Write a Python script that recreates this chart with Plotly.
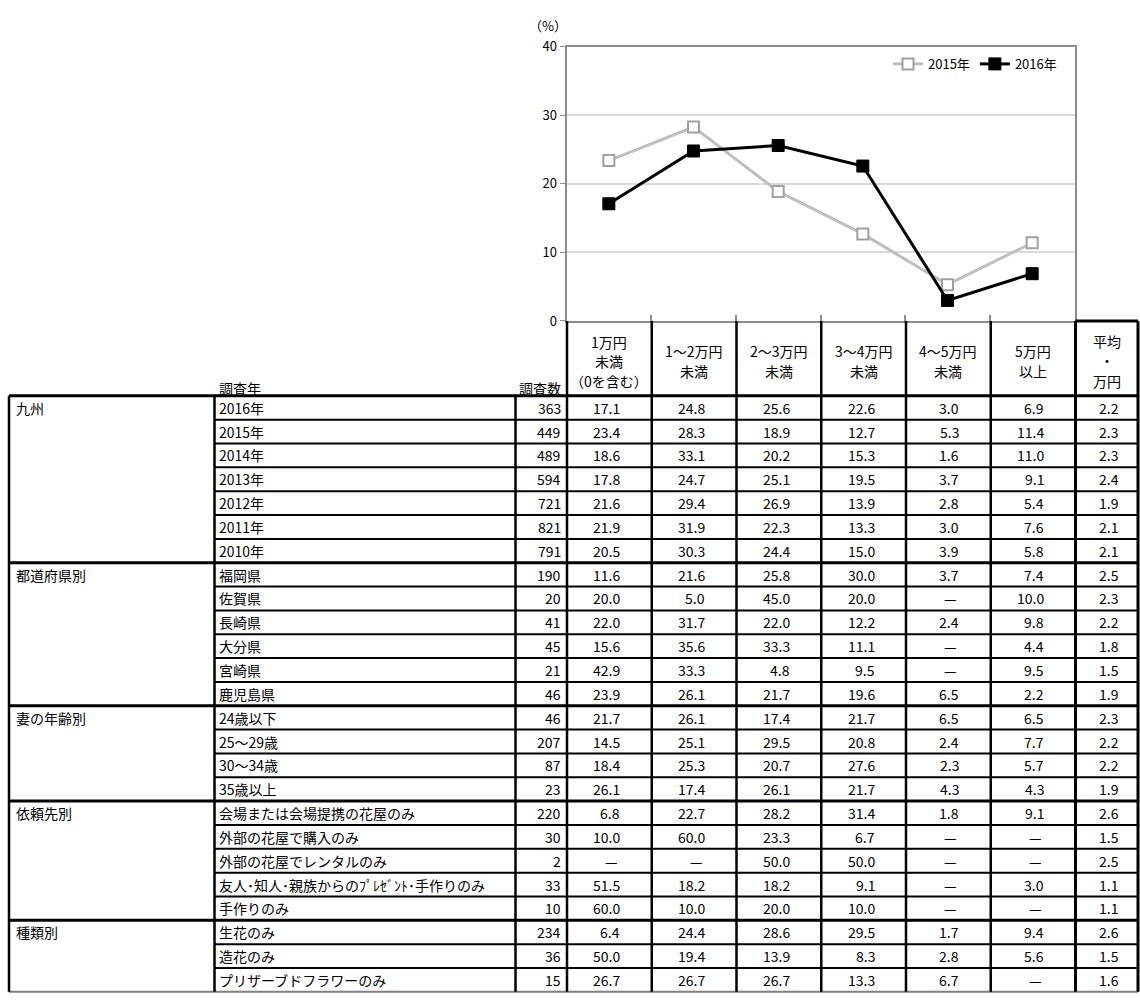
import plotly.graph_objects as go

# ---------------- data ----------------
price_bands = ["1万円未満（0を含む）", "1〜2万円未満", "2〜3万円未満", "3〜4万円未満", "4〜5万円未満", "5万円以上"]
header_lines = [["1万円", "未満", "（0を含む）"], ["1〜2万円", "未満"], ["2〜3万円", "未満"],
                ["3〜4万円", "未満"], ["4〜5万円", "未満"], ["5万円", "以上"]]
avg_header = ["平均", "・", "万円"]

groups = ["九州", "都道府県別", "妻の年齢別", "依頼先別", "種類別"]
group_sizes = [7, 6, 4, 5, 3]
row_labels = ["2016年", "2015年", "2014年", "2013年", "2012年", "2011年", "2010年",
              "福岡県", "佐賀県", "長崎県", "大分県", "宮崎県", "鹿児島県",
              "24歳以下", "25〜29歳", "30〜34歳", "35歳以上",
              "会場または会場提携の花屋のみ", "外部の花屋で購入のみ", "外部の花屋でレンタルのみ",
              "友人･知人･親族からのﾌﾟﾚｾﾞﾝﾄ･手作りのみ", "手作りのみ",
              "生花のみ", "造花のみ", "プリザーブドフラワーのみ"]
counts = [363, 449, 489, 594, 721, 821, 791, 190, 20, 41, 45, 21, 46, 46, 207, 87, 23,
          220, 30, 2, 33, 10, 234, 36, 15]
band_lt1 = [17.1, 23.4, 18.6, 17.8, 21.6, 21.9, 20.5, 11.6, 20.0, 22.0, 15.6, 42.9, 23.9,
            21.7, 14.5, 18.4, 26.1, 6.8, 10.0, None, 51.5, 60.0, 6.4, 50.0, 26.7]
band_1_2 = [24.8, 28.3, 33.1, 24.7, 29.4, 31.9, 30.3, 21.6, 5.0, 31.7, 35.6, 33.3, 26.1,
            26.1, 25.1, 25.3, 17.4, 22.7, 60.0, None, 18.2, 10.0, 24.4, 19.4, 26.7]
band_2_3 = [25.6, 18.9, 20.2, 25.1, 26.9, 22.3, 24.4, 25.8, 45.0, 22.0, 33.3, 4.8, 21.7,
            17.4, 29.5, 20.7, 26.1, 28.2, 23.3, 50.0, 18.2, 20.0, 28.6, 13.9, 26.7]
band_3_4 = [22.6, 12.7, 15.3, 19.5, 13.9, 13.3, 15.0, 30.0, 20.0, 12.2, 11.1, 9.5, 19.6,
            21.7, 20.8, 27.6, 21.7, 31.4, 6.7, 50.0, 9.1, 10.0, 29.5, 8.3, 13.3]
band_4_5 = [3.0, 5.3, 1.6, 3.7, 2.8, 3.0, 3.9, 3.7, None, 2.4, None, None, 6.5,
            6.5, 2.4, 2.3, 4.3, 1.8, None, None, None, None, 1.7, 2.8, 6.7]
band_ge5 = [6.9, 11.4, 11.0, 9.1, 5.4, 7.6, 5.8, 7.4, 10.0, 9.8, 4.4, 9.5, 2.2,
            6.5, 7.7, 5.7, 4.3, 9.1, None, None, 3.0, None, 9.4, 5.6, None]
avg_man = [2.2, 2.3, 2.3, 2.4, 1.9, 2.1, 2.1, 2.5, 2.3, 2.2, 1.8, 1.5, 1.9,
           2.3, 2.2, 2.2, 1.9, 2.6, 1.5, 2.5, 1.1, 1.1, 2.6, 1.5, 1.6]
band_cols = [band_lt1, band_1_2, band_2_3, band_3_4, band_4_5, band_ge5]

series_2015 = [c[1] for c in band_cols]
series_2016 = [c[0] for c in band_cols]

# ---------------- layout geometry (pixels) ----------------
W, H = 1140, 1003
PLOT_L, PLOT_R, PLOT_T, PLOT_B = 566.5, 1074.5, 37.5, 317.0
TAB_T, ROW_H = 393.3, 24.3
XL, XC1, XC2, XC3 = 9.0, 214.5, 515.5, 567.0
VW = (1075.5 - XC3) / 6
XAVG, XR = 1075.5, 1138.0

FONT = "Noto Sans CJK JP, sans-serif"
FS = 14


def X(p):
    return p / W


def Y(p):
    return 1 - p / H


fig = go.Figure()
xs = list(range(len(price_bands)))
fig.add_trace(go.Scatter(
    x=xs, y=series_2015, name="2015年", mode="lines+markers",
    line=dict(color="#bfbfbf", width=3),
    marker=dict(symbol="square", size=11, color="white", line=dict(color="#a0a0a0", width=2)),
    text=price_bands, hoverinfo="text+y"))
fig.add_trace(go.Scatter(
    x=xs, y=series_2016, name="2016年", mode="lines+markers",
    line=dict(color="black", width=3),
    marker=dict(symbol="square", size=12, color="black", line=dict(color="black", width=1)),
    text=price_bands, hoverinfo="text+y"))

shapes = []
annotations = []


def line(x0, y0, x1, y1, w=2, color="black"):
    shapes.append(dict(type="line", xref="paper", yref="paper", x0=X(x0), y0=Y(y0),
                       x1=X(x1), y1=Y(y1), line=dict(color=color, width=w), layer="above"))


def text(x, y, s, anchor="center", size=FS):
    annotations.append(dict(xref="paper", yref="paper", x=X(x), y=Y(y), text=s,
                            showarrow=False, xanchor=anchor, yanchor="middle",
                            font=dict(family=FONT, size=size, color="black")))


n_rows = len(row_labels)
TAB_B = TAB_T + ROW_H * n_rows

# header texts
for k, lines in enumerate(header_lines):
    cx = XC3 + VW * (k + 0.5)
    ys = [338, 358, 378] if len(lines) == 3 else [348, 368]
    for s, yy in zip(lines, ys):
        text(cx, yy, s)
for s, yy in zip(avg_header, [337, 357, 378]):
    text((XAVG + XR) / 2, yy, s)
text(XC1 + 2, 385, "調査年", anchor="left")
text(XC3 - 4, 385, "調査数", anchor="right")
text(548, 16, "（%）", size=13)


def fmt(v):
    return "—" if v is None else f"{v:.1f}"


# body
group_start = []
r = 0
for g, n in zip(groups, group_sizes):
    group_start.append(r)
    text(XL + 5, TAB_T + ROW_H * (r + 0.5), g, anchor="left")
    r += n

for i in range(n_rows):
    cy = TAB_T + ROW_H * (i + 0.5)
    text(XC1 + 2, cy, row_labels[i], anchor="left")
    text(XC3 - 4, cy, str(counts[i]), anchor="right")
    for k, col in enumerate(band_cols):
        cx = XC3 + VW * (k + 0.5)
        v = col[i]
        if v is None:
            text(cx + 2, cy, fmt(v))
        else:
            text(cx + 13, cy, fmt(v), anchor="right")
    text((XAVG + XR) / 2 + 2, cy, fmt(avg_man[i]))

# horizontal lines
for i in range(n_rows + 1):
    yy = TAB_T + ROW_H * i
    if i in group_start or i == n_rows:
        line(XL, yy, XR, yy, w=3 if i != n_rows else 2,
             color="black" if i != n_rows else "#808080")
    else:
        line(XC1, yy, XR, yy, w=2)
# vertical lines
for xx in [XL, XC1, XC2]:
    line(xx, TAB_T, xx, TAB_B, w=2.5)
for k in range(6):
    xx = XC3 + VW * k
    line(xx, PLOT_B, xx, TAB_B, w=2.5)
line(XAVG, PLOT_B, XAVG, TAB_B, w=3)
line(XR, PLOT_B, XR, TAB_B, w=3)
line(XAVG, PLOT_B, XR, PLOT_B, w=3)

fig.update_layout(
    width=W, height=H, autosize=False,
    margin=dict(l=0, r=0, t=0, b=0),
    paper_bgcolor="white", plot_bgcolor="white",
    font=dict(family=FONT, size=13, color="black"),
    showlegend=True,
    legend=dict(orientation="h", x=X(1062), xanchor="right", y=Y(55), yanchor="middle",
                bgcolor="rgba(0,0,0,0)", font=dict(family=FONT, size=13), itemwidth=30,
                tracegroupgap=0),
    xaxis=dict(domain=[X(PLOT_L), X(PLOT_R)], range=[-0.5, 5.5],
               tickvals=[0.5, 1.5, 2.5, 3.5, 4.5], ticks="inside", ticklen=6,
               tickcolor="#8c8c8c", tickwidth=2, showticklabels=False, showgrid=False,
               zeroline=False, showline=True, mirror=True, linecolor="#8c8c8c", linewidth=2,
               fixedrange=True),
    yaxis=dict(domain=[Y(PLOT_B), Y(PLOT_T)], range=[0, 40], dtick=10,
               ticks="outside", ticklen=5, tickcolor="#8c8c8c", tickwidth=1,
               showgrid=True, gridcolor="#d9d9d9", gridwidth=2, zeroline=False,
               showline=True, mirror=True, linecolor="#8c8c8c", linewidth=2,
               tickfont=dict(family=FONT, size=13), fixedrange=True),
    shapes=shapes,
    annotations=annotations,
)

fig.write_html("out.html", config={"displayModeBar": False},
               post_script="document.body.style.margin='0';")
